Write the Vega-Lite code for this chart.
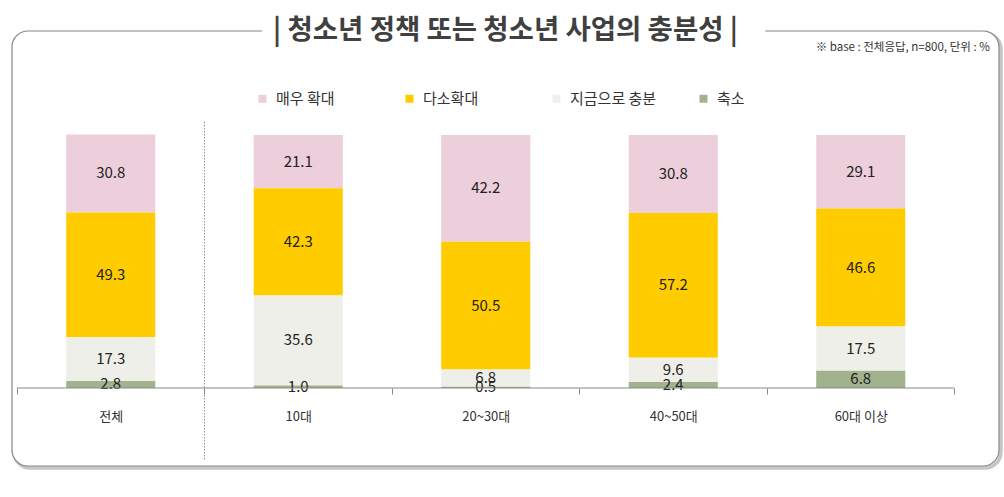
{
  "$schema": "https://vega.github.io/schema/vega-lite/v6.json",
  "width": 987,
  "height": 435,
  "autosize": "none",
  "padding": {"left": 12, "top": 31, "right": 5, "bottom": 31},
  "background": "white",
  "config": {
    "font": "Noto Sans CJK KR",
    "view": {"stroke": null},
    "text": {"font": "Noto Sans CJK KR"}
  },
  "title": {
    "text": "| 청소년 정책 또는 청소년 사업의 충분성 |",
    "fontSize": 27.5,
    "fontWeight": "bold",
    "color": "#404040",
    "anchor": "middle",
    "frame": "group",
    "offset": -21,
    "font": "Noto Sans CJK KR"
  },
  "datasets": {
    "bars": [
      {"group": "전체", "cat": "매우 확대", "value": 30.8, "ord": 4},
      {"group": "전체", "cat": "다소확대", "value": 49.3, "ord": 3},
      {"group": "전체", "cat": "지금으로 충분", "value": 17.3, "ord": 2},
      {"group": "전체", "cat": "축소", "value": 2.8, "ord": 1},
      {"group": "10대", "cat": "매우 확대", "value": 21.1, "ord": 4},
      {"group": "10대", "cat": "다소확대", "value": 42.3, "ord": 3},
      {"group": "10대", "cat": "지금으로 충분", "value": 35.6, "ord": 2},
      {"group": "10대", "cat": "축소", "value": 1.0, "ord": 1},
      {"group": "20~30대", "cat": "매우 확대", "value": 42.2, "ord": 4},
      {"group": "20~30대", "cat": "다소확대", "value": 50.5, "ord": 3},
      {"group": "20~30대", "cat": "지금으로 충분", "value": 6.8, "ord": 2},
      {"group": "20~30대", "cat": "축소", "value": 0.5, "ord": 1},
      {"group": "40~50대", "cat": "매우 확대", "value": 30.8, "ord": 4},
      {"group": "40~50대", "cat": "다소확대", "value": 57.2, "ord": 3},
      {"group": "40~50대", "cat": "지금으로 충분", "value": 9.6, "ord": 2},
      {"group": "40~50대", "cat": "축소", "value": 2.4, "ord": 1},
      {"group": "60대 이상", "cat": "매우 확대", "value": 29.1, "ord": 4},
      {"group": "60대 이상", "cat": "다소확대", "value": 46.6, "ord": 3},
      {"group": "60대 이상", "cat": "지금으로 충분", "value": 17.5, "ord": 2},
      {"group": "60대 이상", "cat": "축소", "value": 6.8, "ord": 1}
    ],
    "one": [{"k": 1}]
  },
  "layer": [
    {
      "data": {"name": "one"},
      "mark": {"type": "rect", "fill": null, "filled": false, "stroke": "#c6c6c6", "strokeWidth": 3.5, "cornerRadius": 16, "xOffset": 2, "x2Offset": 2, "yOffset": 2, "y2Offset": 2},
      "encoding": {
        "x": {"value": 0},
        "x2": {"value": "width"},
        "y": {"value": 0},
        "y2": {"value": "height"}
      }
    },
    {
      "data": {"name": "one"},
      "mark": {"type": "rect", "fill": "white", "stroke": "#858585", "strokeWidth": 1.2, "cornerRadius": 16},
      "encoding": {
        "x": {"value": 0},
        "x2": {"value": "width"},
        "y": {"value": 0},
        "y2": {"value": "height"}
      }
    },
    {
      "data": {"name": "bars"},
      "mark": {"type": "bar", "width": {"band": 0.475}},
      "encoding": {
        "x": {
          "field": "group",
          "type": "nominal",
          "sort": null,
          "title": null,
          "scale": {
            "domain": ["전체", "10대", "20~30대", "40~50대", "60대 이상"],
            "paddingInner": 0,
            "paddingOuter": 0.132,
            "align": 0.101
          },
          "axis": {
            "orient": "bottom",
            "offset": -78,
            "zindex": 1,
            "domain": false,
            "ticks": true,
            "tickBand": "extent",
            "tickSize": 6,
            "tickColor": "#888888",
            "tickWidth": 1,
            "labelAngle": 0,
            "labelFontSize": 13,
            "labelColor": "#333333",
            "labelPadding": 16,
            "labelFont": "Noto Sans CJK KR"
          }
        },
        "y": {
          "field": "value",
          "type": "quantitative",
          "stack": "zero",
          "axis": null,
          "scale": {"domain": [-30.83, 141.1], "nice": false, "zero": false}
        },
        "color": {
          "field": "cat",
          "type": "nominal",
          "scale": {
            "domain": ["매우 확대", "다소확대", "지금으로 충분", "축소"],
            "range": ["#ECCFDA", "#FFCC00", "#EEEFE8", "#A2B28D"]
          },
          "legend": {
            "title": null,
            "orient": "none",
            "legendX": 243,
            "legendY": 60,
            "zindex": 1,
            "direction": "horizontal",
            "columns": 4,
            "gridAlign": "all",
            "columnPadding": 39,
            "symbolType": "square",
            "symbolSize": 64,
            "symbolStrokeWidth": 0,
            "labelFontSize": 15,
            "labelColor": "#333333",
            "labelOffset": 6,
            "labelFont": "Noto Sans CJK KR"
          }
        },
        "order": {"field": "ord", "type": "quantitative"}
      }
    },
    {
      "data": {"name": "bars"},
      "mark": {"type": "text", "fontSize": 15, "color": "#222222", "baseline": "middle"},
      "encoding": {
        "x": {"field": "group", "type": "nominal", "title": null},
        "y": {"field": "value", "type": "quantitative", "stack": "zero", "bandPosition": 0.5, "axis": null},
        "detail": {"field": "cat"},
        "order": {"field": "ord", "type": "quantitative"},
        "text": {"field": "value", "type": "quantitative", "format": ".1f"}
      }
    },
    {
      "data": {"name": "one"},
      "mark": {"type": "bar", "color": "white", "width": 503, "xOffset": 28},
      "encoding": {
        "x": {"datum": "20~30대", "type": "nominal", "title": null},
        "y": {"datum": 144, "type": "quantitative", "axis": null},
        "y2": {"datum": 138.5}
      }
    },
    {
      "data": {"name": "one"},
      "mark": {"type": "rule", "color": "#888888", "strokeWidth": 1},
      "encoding": {
        "x": {"datum": "전체", "type": "nominal", "bandPosition": 0, "title": null},
        "x2": {"datum": "60대 이상", "bandPosition": 1},
        "y": {"datum": 0, "type": "quantitative", "axis": null}
      }
    },
    {
      "data": {"name": "one"},
      "mark": {"type": "rule", "color": "#555555", "strokeWidth": 1, "strokeDash": [1, 2]},
      "encoding": {
        "x": {"datum": "10대", "type": "nominal", "bandPosition": 0, "title": null},
        "y": {"datum": 105, "type": "quantitative", "axis": null},
        "y2": {"datum": -28.5}
      }
    },
    {
      "data": {"name": "one"},
      "mark": {"type": "text", "fontSize": 11.5, "color": "#333333", "align": "right", "baseline": "middle", "dx": 129},
      "encoding": {
        "x": {"datum": "60대 이상", "type": "nominal", "title": null},
        "y": {"datum": 134.4, "type": "quantitative", "axis": null},
        "text": {"value": "※ base : 전체응답,  n=800, 단위 : %"}
      }
    }
  ]
}
